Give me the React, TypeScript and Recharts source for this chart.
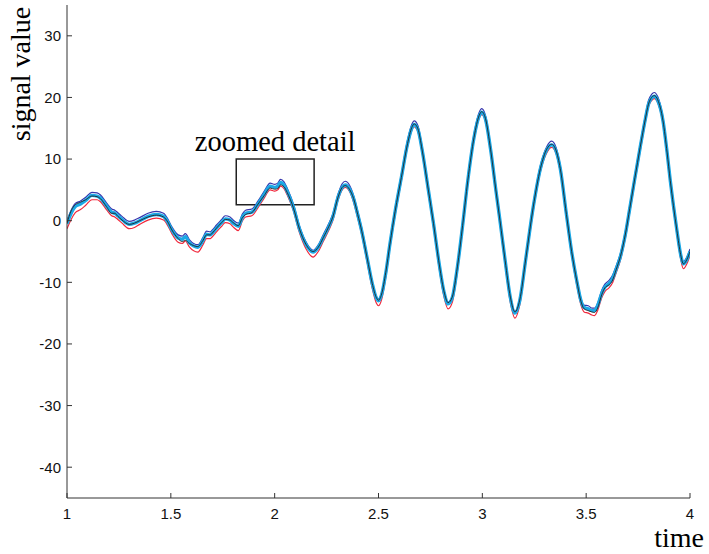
import React from 'react';
import { LineChart, Line, XAxis, YAxis, ReferenceArea, Label } from 'recharts';

const time = [
  1.000, 1.020, 1.040, 1.065, 1.090, 1.120, 1.145, 1.160, 1.190, 1.215,
  1.230, 1.245, 1.265, 1.300, 1.325, 1.350, 1.390, 1.430, 1.465, 1.485,
  1.505, 1.535, 1.555, 1.570, 1.590, 1.630, 1.655, 1.672, 1.690, 1.700,
  1.720, 1.745, 1.762, 1.785, 1.800, 1.825, 1.845, 1.860, 1.890, 1.920,
  1.950, 1.978, 2.000, 2.015, 2.028, 2.045, 2.060, 2.090, 2.120, 2.150,
  2.185, 2.210, 2.235, 2.260, 2.280, 2.305, 2.325, 2.340, 2.360, 2.380,
  2.400, 2.420, 2.445, 2.470, 2.490, 2.500, 2.515, 2.535, 2.555, 2.580,
  2.610, 2.640, 2.660, 2.672, 2.690, 2.710, 2.740, 2.765, 2.790, 2.815,
  2.835, 2.855, 2.880, 2.905, 2.930, 2.960, 2.985, 2.997, 3.015, 3.040,
  3.065, 3.085, 3.110, 3.135, 3.157, 3.180, 3.210, 3.245, 3.280, 3.310,
  3.334, 3.355, 3.375, 3.405, 3.430, 3.455, 3.475, 3.490, 3.510, 3.527,
  3.540, 3.555, 3.575, 3.590, 3.610, 3.625, 3.645, 3.665, 3.690, 3.710,
  3.735, 3.760, 3.785, 3.800, 3.815, 3.828, 3.845, 3.870, 3.890, 3.905,
  3.920, 3.937, 3.955, 3.968, 3.985, 4.000,
];

const meanSignal = [
  -0.5, 1.2, 2.3, 2.7, 3.3, 4.1, 4.0, 3.7, 2.4, 1.4,
  1.2, 0.8, 0.2, -0.6, -0.4, 0.0, 0.7, 1.0, 0.7, -0.2,
  -1.5, -2.8, -3.0, -2.6, -3.6, -4.3, -3.2, -2.2, -2.3, -2.0,
  -1.2, -0.3, 0.3, 0.1, -0.4, -0.9, 0.6, 1.2, 1.4, 2.7,
  4.3, 5.6, 5.4, 5.6, 6.2, 5.8, 4.8, 2.2, -1.4, -3.8,
  -5.1, -4.3, -2.7, -1.0, 0.6, 3.8, 5.4, 5.8, 5.2, 3.6,
  1.0, -1.8, -6.0, -10.2, -12.6, -13.0, -12.0, -8.5, -3.8, 1.5,
  7.0, 12.5, 15.0, 15.6, 14.8, 11.5, 5.0, -0.5, -6.5, -11.5,
  -13.5, -12.5, -7.5, -0.8, 6.5, 13.5, 17.0, 17.6, 16.5, 11.5,
  5.0, 0.0, -6.5, -12.5, -15.0, -13.0, -6.0, 2.2, 8.5, 11.5,
  12.3, 11.3, 8.5, 1.0, -5.0, -9.8, -13.0, -14.1, -14.3, -14.6,
  -14.6, -13.8, -11.8, -10.8, -10.2, -9.5, -7.8, -5.8, -2.0, 2.0,
  7.0, 11.9, 16.5, 18.9, 19.9, 20.2, 19.5, 16.2, 11.0, 6.5,
  2.5, -1.6, -5.5, -7.0, -6.3, -5.0,
];

const upperSignal = [
  0.0, 1.7, 2.8, 3.2, 3.8, 4.6, 4.5, 4.2, 2.9, 1.9,
  1.7, 1.3, 0.7, -0.1, 0.1, 0.5, 1.2, 1.5, 1.2, 0.3,
  -1.0, -2.3, -2.5, -2.1, -3.1, -3.9, -2.7, -1.7, -1.8, -1.5,
  -0.7, 0.2, 0.8, 0.6, 0.1, -0.4, 1.1, 1.7, 1.9, 3.2,
  4.8, 6.1, 5.9, 6.1, 6.7, 6.3, 5.3, 2.7, -0.9, -3.4,
  -4.8, -3.9, -2.2, -0.5, 1.1, 4.3, 6.0, 6.4, 5.8, 4.1,
  1.5, -1.3, -5.6, -9.9, -12.3, -12.7, -11.7, -8.1, -3.3, 2.0,
  7.5, 13.1, 15.6, 16.2, 15.4, 12.0, 5.5, 0.0, -6.1, -11.2,
  -13.2, -12.2, -7.1, -0.3, 7.0, 14.1, 17.6, 18.2, 17.1, 12.0,
  5.5, 0.5, -6.1, -12.2, -14.7, -12.6, -5.5, 2.7, 9.0, 12.0,
  12.9, 11.9, 9.0, 1.5, -4.6, -9.4, -12.6, -13.7, -13.8, -14.2,
  -14.2, -13.4, -11.3, -10.3, -9.7, -9.0, -7.3, -5.3, -1.5, 2.5,
  7.5, 12.4, 17.0, 19.5, 20.5, 20.8, 20.1, 16.7, 11.5, 7.0,
  3.0, -1.1, -5.1, -6.6, -5.9, -4.6,
];

const lowerSignal = [
  -1.3, 0.2, 1.3, 1.8, 2.5, 3.4, 3.4, 3.1, 1.8, 0.8,
  0.6, 0.2, -0.4, -1.3, -1.1, -0.6, 0.1, 0.4, 0.1, -0.8,
  -2.1, -3.5, -3.7, -3.3, -4.3, -5.1, -3.9, -2.9, -2.9, -2.6,
  -1.8, -0.9, -0.3, -0.5, -1.0, -1.6, 0.0, 0.6, 0.8, 2.1,
  3.7, 5.0, 4.8, 5.0, 5.6, 5.2, 4.2, 1.6, -2.0, -4.5,
  -5.9, -5.0, -3.3, -1.6, 0.0, 3.3, 5.0, 5.4, 4.8, 3.0,
  0.4, -2.4, -6.7, -11.0, -13.4, -13.8, -12.8, -9.2, -4.4, 0.9,
  6.4, 12.0, 14.6, 15.2, 14.4, 11.0, 4.4, -1.1, -7.2, -12.3,
  -14.3, -13.3, -8.2, -1.4, 6.0, 13.1, 16.6, 17.2, 16.1, 11.0,
  4.4, -0.6, -7.2, -13.3, -15.8, -13.7, -6.6, 1.6, 8.0, 11.0,
  11.9, 10.9, 8.0, 0.4, -5.6, -10.5, -13.7, -14.8, -15.0, -15.3,
  -15.4, -14.6, -12.5, -11.5, -10.9, -10.2, -8.4, -6.4, -2.6, 1.4,
  6.4, 11.3, 16.0, 18.5, 19.5, 19.8, 19.1, 15.7, 10.4, 5.9,
  1.9, -2.2, -6.2, -7.8, -7.0, -5.6,
];

const trueSignal = [
  -0.4, 1.6, 2.6, 3.0, 3.4, 4.0, 3.9, 3.6, 2.3, 1.2,
  1.2, 0.7, 0.1, -0.6, -0.4, 0.0, 0.6, 0.9, 0.6, -0.2,
  -1.5, -2.9, -3.4, -3.2, -3.7, -4.2, -3.2, -2.3, -2.3, -2.0,
  -1.2, -0.3, 0.2, 0.1, -0.3, -0.8, 0.5, 1.0, 1.3, 2.7,
  4.1, 5.3, 5.1, 5.2, 5.8, 5.5, 4.6, 2.1, -1.4, -3.8,
  -5.0, -4.3, -2.7, -1.0, 0.6, 3.8, 5.4, 5.7, 5.1, 3.6,
  1.0, -1.8, -6.0, -10.2, -12.5, -12.9, -11.9, -8.4, -3.8, 1.5,
  7.0, 12.5, 15.1, 15.7, 14.9, 11.5, 5.0, -0.5, -6.5, -11.4,
  -13.3, -12.4, -7.5, -0.8, 6.5, 13.5, 17.1, 17.7, 16.6, 11.5,
  5.0, 0.0, -6.5, -12.4, -14.8, -12.9, -6.0, 2.2, 8.5, 11.6,
  12.4, 11.4, 8.5, 1.0, -5.0, -9.8, -13.1, -14.3, -14.6, -14.8,
  -14.9, -14.2, -12.0, -10.9, -10.4, -9.8, -7.9, -5.8, -2.0, 2.0,
  7.0, 11.9, 16.5, 18.9, 20.0, 20.3, 19.6, 16.2, 11.0, 6.5,
  2.5, -1.6, -5.5, -7.0, -6.3, -5.0,
];

const xTicks = [1, 1.5, 2, 2.5, 3, 3.5, 4];
const yTicks = [-40, -30, -20, -10, 0, 10, 20, 30];
const xDomain = [1, 4];
const yDomain = [-45, 35];
const zoomTimeRange = [1.815, 2.19];
const zoomValueRange = [2.6, 10];
const zoomLabel = 'zoomed detail';
const xLabel = 'time';
const yLabel = 'signal value';

const data = time.map((t, i) => ({
  t,
  mean: meanSignal[i],
  upper: upperSignal[i],
  lower: lowerSignal[i],
  truth: trueSignal[i],
}));

const serif = '"Liberation Serif", "Times New Roman", serif';
const sans = '"Liberation Sans", Arial, sans-serif';
const axisColor = '#333';

export default function App() {
  return (
    <div style={{ position: 'absolute', left: 0, top: 0, width: 709, height: 554, background: '#fff' }}>
      <LineChart width={709} height={554} data={data} margin={{ top: 5, right: 19, bottom: 6, left: 7 }}>
        <XAxis
          dataKey="t"
          type="number"
          domain={xDomain}
          ticks={xTicks}
          allowDataOverflow
          height={50}
          tickSize={-5}
          tickMargin={15}
          axisLine={{ stroke: axisColor }}
          tickLine={{ stroke: axisColor }}
          tick={{ fill: '#111', fontSize: 15, fontFamily: sans }}
        >
          <Label
            content={(p: any) => {
              const vb = p.viewBox || {};
              const x = vb.x + vb.width + 14;
              const y = vb.y + 49;
              return (
                <text x={x} y={y} textAnchor="end" fontFamily={serif} fontSize={28} fill="#000">
                  {xLabel}
                </text>
              );
            }}
          />
        </XAxis>
        <YAxis
          type="number"
          domain={yDomain}
          ticks={yTicks}
          allowDataOverflow
          width={60}
          tickSize={-5}
          tickMargin={11}
          axisLine={{ stroke: axisColor }}
          tickLine={{ stroke: axisColor }}
          tick={{ fill: '#111', fontSize: 15, fontFamily: sans }}
        >
          <Label
            content={(p: any) => {
              const vb = p.viewBox || {};
              const x = vb.x + (vb.width || 0) - 37;
              const y = vb.y + 69;
              return (
                <text
                  x={x}
                  y={y}
                  transform={`rotate(-90, ${x}, ${y})`}
                  textAnchor="middle"
                  fontFamily={serif}
                  fontSize={28}
                  fill="#000"
                >
                  {yLabel}
                </text>
              );
            }}
          />
        </YAxis>
        <ReferenceArea
          x1={zoomTimeRange[0]}
          x2={zoomTimeRange[1]}
          y1={zoomValueRange[0]}
          y2={zoomValueRange[1]}
          fill="none"
          fillOpacity={0}
          stroke="#222"
          strokeWidth={1.5}
          ifOverflow="visible"
          label={{ value: zoomLabel, position: 'top', offset: 8, fontFamily: serif, fontSize: 28.5, fill: '#000' }}
        />
        <Line dataKey="upper" type="monotone" stroke="#3636ad" strokeWidth={1.2} dot={false} isAnimationActive={false} />
        <Line dataKey="lower" type="monotone" stroke="#f0283c" strokeWidth={1.2} dot={false} isAnimationActive={false} />
        <Line dataKey="mean" type="monotone" stroke="#1ba8e6" strokeWidth={3.4} dot={false} isAnimationActive={false} />
        <Line dataKey="truth" type="monotone" stroke="#222" strokeWidth={0.9} dot={false} isAnimationActive={false} />
      </LineChart>
    </div>
  );
}
